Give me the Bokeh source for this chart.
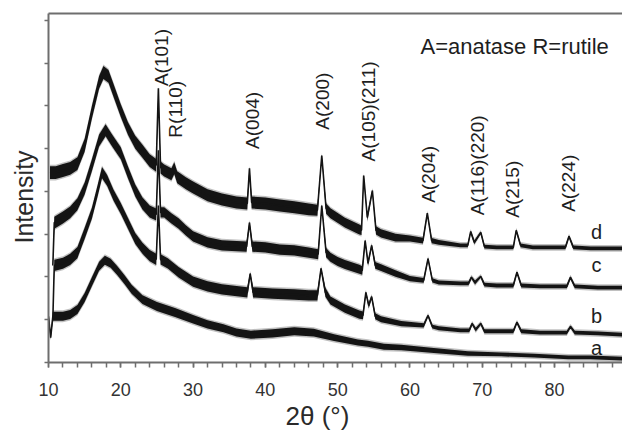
import math
from bokeh.plotting import figure
from bokeh.models import (ColumnDataSource, Range1d, LinearAxis, Title,
                          SingleIntervalTicker, FixedTicker)
from bokeh.core.properties import value
from bokeh.embed import file_html
from bokeh.resources import INLINE

FONT = "Liberation Sans"
INK = "#141414"

# ---- XRD patterns: 2-theta (deg), intensity (a.u.), noise band width (a.u.) ----
d_theta = [10.2, 11, 12, 13, 14, 15, 16, 17, 17.6, 18.3, 19, 20, 21, 22, 23, 24, 24.9, 25.2, 25.5,
           26, 27, 27.4, 27.8, 29, 30, 32, 34, 36, 37.5, 37.8, 38.1, 40, 42, 44, 46, 47.2, 47.8, 48.4,
           49, 51, 53, 53.3, 53.6, 54.1, 54.8, 55.3, 56, 58, 60, 61.8, 62.4, 63, 64, 67, 68.0, 68.4,
           68.9, 69.8, 70.3, 72, 74.3, 74.7, 75.3, 77, 81.5, 82.0, 82.6, 85, 89.5]
d_int = [4440, 4440, 4490, 4540, 4650, 5080, 5850, 6550, 6780, 6690, 6360, 5890, 5470, 5150, 4940,
         4720, 4610, 6410, 4560, 4490, 4400, 4540, 4330, 4190, 4090, 3910, 3810, 3740, 3720, 4540,
         3740, 3720, 3670, 3630, 3580, 3560, 4840, 3600, 3490, 3270, 3110, 3090, 4370, 3390, 4020,
         3090, 3020, 2920, 2900, 2850, 3490, 2850, 2810, 2740, 2740, 3060, 2810, 3040, 2710, 2690,
         2690, 3090, 2740, 2690, 2690, 2950, 2690, 2670, 2670]
d_noise = [300, 300, 300, 300, 300, 300, 300, 300, 300, 300, 300, 300, 300, 300, 300, 300, 300, 50, 280,
           280, 280, 280, 280, 280, 280, 280, 280, 280, 280, 50, 280, 280, 280, 280, 280, 260, 50, 240,
           230, 230, 230, 220, 50, 150, 50, 190, 190, 180, 140, 130, 50, 120, 110, 90, 90, 50,
           90, 50, 90, 90, 90, 50, 90, 90, 90, 50, 90, 90, 90]

c_theta = [10.6, 10.8, 12, 13, 14, 15, 16, 17, 17.9, 18.8, 20, 21, 22, 23, 24, 24.9, 25.2, 25.5, 26,
           27, 28, 29, 30, 32, 34, 37.4, 37.8, 38.2, 40, 42, 44, 46, 47.3, 47.8, 48.4, 49, 50, 51,
           53, 53.4, 53.8, 54.2, 54.7, 55.2, 56, 58, 60, 61.9, 62.5, 63.1, 64, 67, 68.1, 68.5, 69.0,
           69.8, 70.3, 72, 74.3, 74.8, 75.4, 78, 81.7, 82.2, 82.8, 86, 89.5]
c_int = [2270, 3270, 3390, 3510, 3700, 4070, 4610, 5190, 5430, 5190, 4890, 4440, 4020, 3720, 3530,
         3460, 4960, 3510, 3510, 3370, 3250, 3090, 2950, 2810, 2740, 2710, 3270, 2710, 2690, 2640,
         2620, 2570, 2530, 3670, 2570, 2460, 2360, 2290, 2180, 2150, 2850, 2320, 2740, 2270, 2220,
         2080, 1960, 1920, 2430, 1920, 1870, 1850, 1850, 1990, 1870, 2010, 1820, 1800, 1800, 2110,
         1800, 1780, 1780, 1990, 1780, 1750, 1750]
c_noise = [40, 280, 280, 280, 280, 280, 280, 280, 280, 280, 280, 280, 280, 280, 280, 280, 50, 240, 240,
           240, 240, 240, 240, 240, 240, 240, 50, 240, 240, 240, 240, 240, 230, 50, 220, 210, 210, 210,
           210, 200, 50, 120, 50, 160, 160, 150, 120, 110, 50, 100, 90, 90, 90, 50, 90,
           50, 90, 90, 90, 50, 90, 90, 90, 50, 90, 90, 90]

b_theta = [10.6, 10.8, 12, 13, 14, 15, 16, 16.8, 17.4, 18.1, 19, 20, 21, 22, 23, 24, 24.9, 25.2, 25.5,
           26.5, 28, 30, 32, 34, 37.5, 37.9, 38.3, 41, 44, 46, 47.2, 47.7, 48.3, 49, 51, 53, 53.5, 53.9,
           54.3, 54.7, 55.2, 56, 58.8, 61.9, 62.5, 63.1, 64, 67, 68.2, 68.6, 69.1, 69.8, 70.3, 72,
           74.3, 74.8, 75.4, 78, 81.7, 82.2, 82.8, 86, 89.5]
b_int = [1030, 2270, 2320, 2410, 2570, 3020, 3490, 4020, 4440, 4260, 3910, 3600, 3250, 2900, 2670,
         2500, 2410, 3670, 2410, 2320, 2110, 1890, 1780, 1710, 1640, 2080, 1640, 1610, 1590, 1570,
         1570, 2200, 1640, 1450, 1260, 1120, 1100, 1640, 1330, 1540, 1080, 1010, 910, 870, 1100, 840,
         800, 750, 750, 910, 770, 910, 730, 730, 730, 940, 730, 700, 700, 840, 700, 680, 650]
b_noise = [40, 260, 260, 260, 260, 260, 260, 260, 260, 260, 260, 260, 260, 260, 260, 260, 260, 50, 240,
           240, 240, 240, 240, 240, 240, 50, 240, 240, 240, 240, 240, 50, 210, 190, 190, 190, 180, 50,
           120, 50, 140, 140, 120, 100, 50, 90, 90, 90, 90, 50, 90, 50, 90, 90,
           90, 50, 90, 90, 90, 50, 90, 90, 90]

a_theta = [10.0, 10.3, 10.6, 12, 13, 14, 15, 16, 17, 17.8, 18.6, 19.5, 20.5, 21.5, 23, 25, 27.5, 30,
           32, 34.2, 36, 38, 41, 44, 46.7, 49.5, 52.8, 54.2, 56.4, 58.8, 63.3, 68, 72.6, 77.2, 81.9,
           85, 89.5]
a_int = [1080, 580, 1080, 1080, 1120, 1240, 1520, 1890, 2250, 2390, 2320, 2150, 1940, 1710, 1470,
         1310, 1170, 1010, 890, 800, 700, 650, 680, 730, 700, 580, 470, 440, 370, 350, 280, 210, 190,
         160, 120, 120, 90]
a_noise = [210, 60, 210, 210, 210, 210, 210, 210, 210, 210, 210, 210, 210, 210, 210, 210, 210, 200,
           190, 190, 190, 190, 190, 190, 180, 160, 140, 140, 140, 130, 120, 110, 90, 90, 90,
           90, 90]

series = [
    ("a", a_theta, a_int, a_noise),
    ("b", b_theta, b_int, b_noise),
    ("c", c_theta, c_int, c_noise),
    ("d", d_theta, d_int, d_noise),
]

# reflection labels (text, 2-theta, intensity of label centre)
peak_labels = ["A(101)", "R(110)", "A(004)", "A(200)", "A(105)(211)",
               "A(204)", "A(116)(220)", "A(215)", "A(224)"]
peak_label_x = [25.63, 27.57, 38.22, 47.90, 54.27, 62.57, 69.34, 74.19, 81.93]
peak_label_y = [7130, 5920, 5660, 6110, 5870, 4400, 4610, 4050, 4190]

curve_names = ["d", "c", "b", "a"]
curve_label_x = [85.8, 85.8, 85.8, 85.8]
curve_label_y = [3040, 2270, 1080, 350]

p = figure(width=622, height=431, output_backend="svg", toolbar_location=None,
           x_range=Range1d(10, 89.4), y_range=Range1d(0, 8160),
           min_border_left=48, min_border_right=0, min_border_top=13,
           min_border_bottom=69)
p.outline_line_color = None
p.xgrid.visible = False
p.ygrid.visible = False
p.background_fill_color = "white"
p.border_fill_color = "white"

AXIS_COL = "#6e6e6e"

# bottom axis: 2-theta
xa = p.xaxis[0]
xa.ticker = SingleIntervalTicker(interval=10, num_minor_ticks=5)
xa.axis_line_color = AXIS_COL
xa.axis_line_width = 2
xa.major_tick_line_color = AXIS_COL
xa.minor_tick_line_color = AXIS_COL
xa.major_tick_line_width = 1.5
xa.minor_tick_line_width = 1.5
xa.major_tick_in = 0
xa.major_tick_out = 5
xa.minor_tick_in = 0
xa.minor_tick_out = 5
xa.major_label_text_font = FONT
xa.major_label_text_font_size = "18px"
xa.major_label_text_color = "#333333"
xa.major_label_standoff = 15

# left axis: intensity, ticks without numbers
ya = p.yaxis[0]
ya.ticker = SingleIntervalTicker(interval=1000, num_minor_ticks=0)
ya.axis_line_color = AXIS_COL
ya.axis_line_width = 2
ya.major_tick_line_color = AXIS_COL
ya.major_tick_line_width = 1.5
ya.major_tick_in = 0
ya.major_tick_out = 4
ya.minor_tick_out = 0
ya.major_label_text_color = None
ya.major_label_text_font_size = "0px"
ya.major_label_standoff = 0

# top frame line
top = LinearAxis(ticker=FixedTicker(ticks=[]), axis_line_color=AXIS_COL, axis_line_width=2,
                 major_tick_out=0, minor_tick_out=0, major_label_standoff=0,
                 major_label_text_color=None, major_label_text_font_size="0px")
p.add_layout(top, "above")

# axis titles
p.add_layout(Title(text="2θ (°)", align="left", offset=237, standoff=1,
                   text_font=FONT, text_font_size="26px", text_font_style="normal",
                   text_color="#2a2a2a"), "below")
p.add_layout(Title(text="Intensity", align="left", offset=119, standoff=13,
                   text_font=FONT, text_font_size="25px", text_font_style="normal",
                   text_color="#2a2a2a"), "left")

# patterns: soft edge, noise band, trace
for name, tt, yy, nn in series:
    lo = [y - n / 2 for y, n in zip(yy, nn)]
    hi = [y + n / 2 for y, n in zip(yy, nn)]
    lo2 = [y - n / 2 - 35 for y, n in zip(yy, nn)]
    hi2 = [y + n / 2 + 35 for y, n in zip(yy, nn)]
    src = ColumnDataSource(dict(x=tt, y=yy, lo=lo, hi=hi, lo2=lo2, hi2=hi2))
    p.varea(x="x", y1="lo2", y2="hi2", source=src, fill_color="#8c8c8c", fill_alpha=0.55)
    p.varea(x="x", y1="lo", y2="hi", source=src, fill_color=INK, fill_alpha=1.0)
    p.line(x="x", y="y", source=src, line_color=INK, line_width=1.6)

# reflection labels
psrc = ColumnDataSource(dict(x=peak_label_x, y=peak_label_y, t=peak_labels))
p.text(x="x", y="y", text="t", source=psrc, angle=math.pi / 2,
       text_align="center", text_baseline="middle",
       text_font=value(FONT), text_font_size="19px", text_color="#1e1e1e")

# curve names
csrc = ColumnDataSource(dict(x=curve_label_x, y=curve_label_y, t=curve_names))
p.text(x="x", y="y", text="t", source=csrc, text_align="center", text_baseline="middle",
       text_font=value(FONT), text_font_size="20px", text_color="#1e1e1e")

# phase key
p.text(x=[61.46], y=[7390], text=["A=anatase R=rutile"], text_align="left",
       text_baseline="middle", text_font=value(FONT), text_font_size="22px",
       text_color="#1e1e1e")

open("out.html", "w").write(file_html(p, INLINE))
